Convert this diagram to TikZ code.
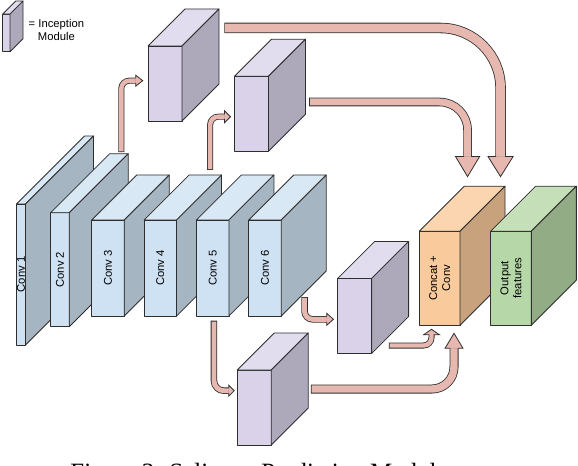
\documentclass[tikz,border=0pt]{standalone}
\usepackage{fontspec}
\setmainfont{Liberation Serif}
\setsansfont{Liberation Sans}
\usetikzlibrary{calc,positioning}

\definecolor{convfront}{HTML}{CFE2F3}
\definecolor{convtop}{HTML}{D9E8F5}
\definecolor{convside}{HTML}{A6B5C2}
\definecolor{incfront}{HTML}{D9D2E9}
\definecolor{inctop}{HTML}{E1DDEE}
\definecolor{incside}{HTML}{AEA9BA}
\definecolor{catfront}{HTML}{F9CB9C}
\definecolor{cattop}{HTML}{FAD5B0}
\definecolor{catside}{HTML}{C7A27D}
\definecolor{outfront}{HTML}{B6D7A8}
\definecolor{outtop}{HTML}{C5DFB9}
\definecolor{outside}{HTML}{92AC86}
\definecolor{flowpink}{HTML}{E6B8AF}
\definecolor{edgegray}{HTML}{2E2E2E}

\tikzset{
  boxface/.style={draw=edgegray, line width=0.8bp, line join=round},
  boxfront/.style={boxface, rectangle, inner sep=0pt, outer sep=0pt},
  boxtext/.style={font=\sffamily\fontsize{11.3}{13}\selectfont, align=center, inner sep=0pt},
  flowline/.style={draw=edgegray, line width=0.8bp, line join=miter},
}

% cuboid: name, centre, width, height, depth, colour, label
\newcommand{\cuboid}[7]{%
  \node[boxfront, fill=#6front, minimum width=#3bp, minimum height=#4bp] (#1) at #2 {};
  \coordinate (#1-bnw) at ($(#1.north west)+(#5,-#5)$);
  \coordinate (#1-bne) at ($(#1.north east)+(#5,-#5)$);
  \coordinate (#1-bse) at ($(#1.south east)+(#5,-#5)$);
  \filldraw[boxface, fill=#6top] (#1.north west) -- (#1-bnw) -- (#1-bne) -- (#1.north east) -- cycle;
  \filldraw[boxface, fill=#6side] (#1.north east) -- (#1-bne) -- (#1-bse) -- (#1.south east) -- cycle;
  \node[boxtext, rotate=90] (#1-label) at (#1) {#7};
}

% block arrow shaft: width, corner radius, path
\newcommand{\flow}[3]{%
  \draw[draw=edgegray, line width=#1bp, rounded corners=#2bp] #3;
  \draw[draw=flowpink, line width=#1bp-1.6bp, rounded corners=#2bp, shorten <=0.8bp] #3;
}

% block arrow head: tip, angle, half width, length, shaft width
\newcommand{\flowhead}[5]{%
  \pgfmathsetmacro{\flowsh}{#5/2-0.8}
  \fill[flowpink, shift={(#1)}, rotate=#2] (0,0) -- (-#4,#3) -- (-#4,-#3) -- cycle;
  \draw[flowline, shift={(#1)}, rotate=#2] (-#4,\flowsh) -- (-#4,#3) -- (0,0) -- (-#4,-#3) -- (-#4,-\flowsh);
}

\begin{document}
\begin{tikzpicture}[x=1bp, y=-1bp]
  \useasboundingbox (0,0) rectangle (578,466);

  % legend
  \cuboid{legend}{(6.4,32.9)}{7.3}{37.7}{13}{inc}{}
  \node[boxtext, anchor=west] (legendtext) at (28.5,30) {= Inception\\Module};

  % backbone
  \cuboid{conv1}{(21,274.5)}{9}{141}{68}{conv}{Conv 1}
  \cuboid{conv2}{(60,269.7)}{18.6}{114}{59}{conv}{Conv 2}
  \foreach \i in {3,...,6} {
    \cuboid{conv\i}{({108+52.33*(\i-3)},268)}{32.5}{96}{45}{conv}{Conv \i}
  }

  % inception modules
  \cuboid{incA}{(165,83.5)}{34}{75}{37}{inc}{}
  \cuboid{incB}{(251.5,113.7)}{34}{75}{37}{inc}{}
  \cuboid{incC}{(354.6,316)}{34}{75}{37}{inc}{}
  \cuboid{incD}{(254.2,407.5)}{34}{75}{37}{inc}{}

  % head
  \cuboid{concat}{(439.7,278.2)}{40.7}{94}{45}{cat}{Concat +\\Conv}
  \cuboid{output}{(511,278.2)}{40.7}{94}{45}{out}{Output\\features}

  % arrows into the inception modules
  \coordinate (s1) at ($(conv2-bne)+(-7,-1.5)$);
  \coordinate (t1) at ($(incA.west)+(-5.3,-2.8)$);
  \flow{6}{8}{(s1) |- ($(t1)+(-7,0)$)}
  \flowhead{t1}{0}{5.5}{7}{6}

  \coordinate (s2) at ($(conv5.north)+(-2.5,-50)$);
  \coordinate (t2) at ($(incB.west)+(-4,3)$);
  \flow{6}{8}{(s2) |- ($(t2)+(-6,0)$)}
  \flowhead{t2}{0}{6}{6}{6}

  \coordinate (s5) at ($(conv6.south east)+(23.3,-19)$);
  \coordinate (t5) at ($(incC.west)+(-4.2,3.3)$);
  \flow{6.5}{8}{(s5) |- ($(t5)+(-6.7,0)$)}
  \flowhead{t5}{0}{6}{6.7}{6.5}

  \coordinate (s6) at ($(conv5.south)+(1.3,4.7)$);
  \coordinate (t6) at ($(incD.west)+(-3,-16.8)$);
  \flow{6.5}{10}{(s6) |- ($(t6)+(-5.5,0)$)}
  \flowhead{t6}{0}{5.5}{5.5}{6.5}

  % arrows into concat
  \coordinate (s3) at ($(incA.north east)+(42.3,-18)$);
  \coordinate (t3) at ($(concat-bne)+(-4.5,-9.6)$);
  \flow{10.5}{60}{(s3) -| ($(t3)+(0,-20)$)}
  \flowhead{t3}{-90}{12.5}{20}{10.5}

  \coordinate (s4) at ($(incB.east)+(40.7,-11.7)$);
  \coordinate (t4) at ($(concat-bnw)+(3.2,-9.6)$);
  \flow{8.6}{28}{(s4) -| ($(t4)+(0,-20)$)}
  \flowhead{t4}{-90}{12}{20}{8.6}

  \coordinate (s7) at ($(incC.east)+(17.3,29.5)$);
  \coordinate (t7) at ($(concat.south)+(-8.2,4.1)$);
  \flow{6}{8}{(s7) -| ($(t7)+(0,5.5)$)}
  \flowhead{t7}{90}{8}{5.5}{6}

  \coordinate (s8) at ($(incD.east)+(39.7,-18.5)$);
  \coordinate (t8) at ($(concat.south)+(14.3,8.1)$);
  \flow{9}{22}{(s8) -| ($(t8)+(0,15)$)}
  \flowhead{t8}{90}{9}{15}{9}

  % caption
  \node[font=\fontsize{25}{30}\selectfont, anchor=base, inner sep=0pt] (caption) at (259,480) {Figure 3: Saliency Prediction Module};
\end{tikzpicture}
\end{document}
